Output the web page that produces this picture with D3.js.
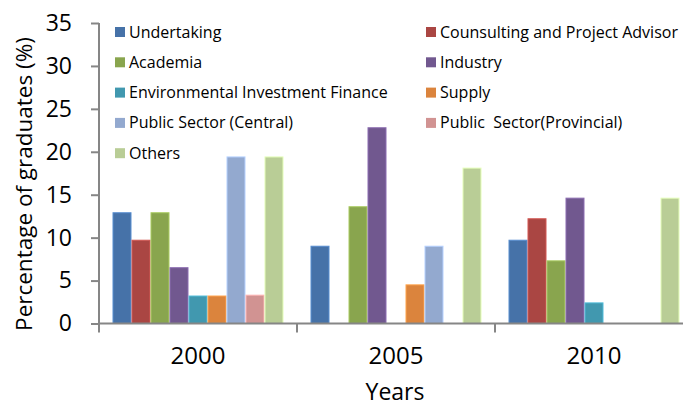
<!DOCTYPE html>
<html>
<head>
<meta charset="utf-8">
<script src="https://cdn.jsdelivr.net/npm/d3@7"></script>
<style>
  body { margin: 0; background: #fff; }
  text { font-family: "Open Sans", sans-serif; fill: #000; }
</style>
</head>
<body>
<script>
const years = ['2000', '2005', '2010'];
const series = ['Undertaking', 'Counsulting and Project Advisor', 'Academia', 'Industry',
  'Environmental Investment Finance', 'Supply', 'Public Sector (Central)',
  'Public  Sector(Provincial)', 'Others'];
const colors = ['#4672A8', '#AA4643', '#89A54E', '#71588F', '#4198AF', '#DB843D',
  '#93A9CF', '#D19392', '#B9CD96'];
// values per year, same order as series
const values2000 = [12.9, 9.7, 12.9, 6.5, 3.2, 3.2, 19.4, 3.3, 19.4];
const values2005 = [9.0, 0, 13.6, 22.8, 0, 4.5, 9.0, 0, 18.1];
const values2010 = [9.7, 12.2, 7.3, 14.6, 2.4, 0, 0, 0, 14.6];
const yTicks = [0, 5, 10, 15, 20, 25, 30, 35];

const w = 683, h = 407;
const mLeft = 99, mTop = 23, mBottom = 323.5, mRight = 693;

const table = years.map((y, i) => ({year: y, vals: [values2000, values2005, values2010][i]}));

const svg = d3.select('body').append('svg').attr('width', w).attr('height', h);

const x0 = d3.scaleBand().domain(years).range([mLeft, mRight]).paddingInner(27 / 198).paddingOuter(27 / 396);
const x1 = d3.scaleBand().domain(series).range([0, x0.bandwidth()]);
const yScale = d3.scaleLinear().domain([0, 35]).range([mBottom, mTop]);
const color = d3.scaleOrdinal().domain(series).range(colors);

// bars
const groups = svg.selectAll('g.grp').data(table).enter().append('g')
  .attr('class', 'grp')
  .attr('transform', d => `translate(${x0(d.year)},0)`);
groups.selectAll('rect')
  .data(d => d.vals.map((v, i) => ({name: series[i], v})).filter(e => e.v > 0))
  .enter().append('rect')
  .attr('x', d => x1(d.name) + 0.5)
  .attr('width', x1.bandwidth() - 1)
  .attr('y', d => yScale(d.v))
  .attr('height', d => yScale(0) - yScale(d.v))
  .attr('fill', d => color(d.name))
  .attr('stroke', d => d3.color(color(d.name)).brighter(0.6))
  .attr('stroke-width', 1);

// y axis
const yAxis = d3.axisLeft(yScale).tickValues(yTicks).tickSize(8).tickPadding(19);
const gy = svg.append('g').attr('transform', `translate(${mLeft},0)`).call(yAxis);
gy.select('.domain').attr('stroke', '#868686').attr('stroke-width', 2).attr('d', `M0,${mTop}V${mBottom + 9}`);
gy.selectAll('.tick line').attr('stroke', '#868686').attr('stroke-width', 2);
gy.selectAll('.tick text').attr('font-size', 23).attr('font-family', '"Open Sans", sans-serif').attr('fill', '#000');

// x axis
const xAxis = d3.axisBottom(x0).tickSize(0).tickPadding(23);
const gx = svg.append('g').attr('transform', `translate(0,${mBottom})`).call(xAxis);
gx.select('.domain').attr('stroke', '#868686').attr('stroke-width', 2).attr('d', `M${mLeft},0H${mRight}`);
gx.selectAll('.tick text').attr('font-size', 24).attr('font-family', '"Open Sans", sans-serif').attr('fill', '#000');
gx.selectAll('line.bound').data(years.slice(1)).enter().append('line')
  .attr('class', 'bound')
  .attr('x1', d => x0(d) - x0.step() * x0.paddingInner() / 2)
  .attr('x2', d => x0(d) - x0.step() * x0.paddingInner() / 2)
  .attr('y1', 0).attr('y2', 9)
  .attr('stroke', '#868686').attr('stroke-width', 2);

// axis titles
svg.append('text')
  .attr('transform', 'translate(32,184) rotate(-90)')
  .attr('text-anchor', 'middle')
  .attr('font-size', 22.5)
  .text('Percentage of graduates (%)');
svg.append('text')
  .attr('x', (mLeft + mRight) / 2 - 1).attr('y', 400)
  .attr('text-anchor', 'middle')
  .attr('font-size', 23)
  .text('Years');

// legend
const legend = svg.selectAll('g.leg').data(series).enter().append('g')
  .attr('class', 'leg')
  .attr('transform', (d, i) => `translate(${i % 2 === 0 ? 115 : 426},${27 + Math.floor(i / 2) * 30.3})`);
legend.append('rect').attr('width', 10).attr('height', 10).attr('fill', d => color(d));
legend.append('text').attr('x', 14).attr('y', 10.5).attr('font-size', 16)
  .style('white-space', 'pre').text(d => d);
</script>
</body>
</html>
